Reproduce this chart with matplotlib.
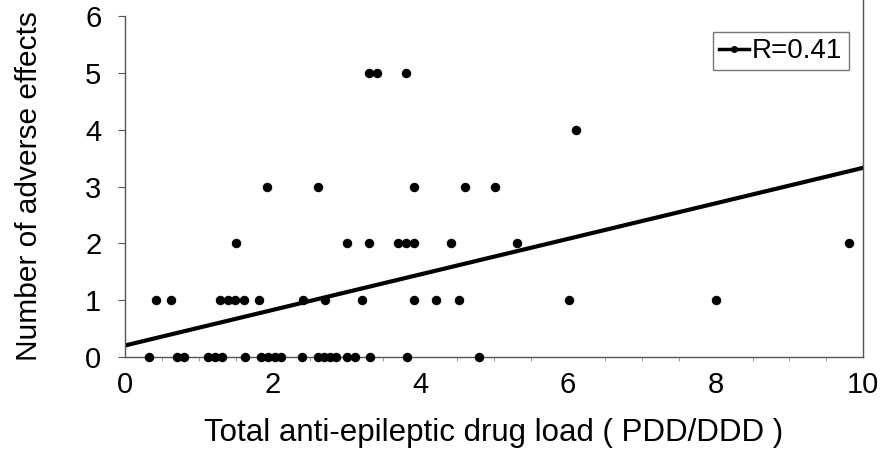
import numpy as np
import matplotlib
matplotlib.use("Agg")
import matplotlib.pyplot as plt
from matplotlib.ticker import MultipleLocator

plt.rcParams['font.family'] = ['Liberation Sans', 'DejaVu Sans']

# drug load (PDD/DDD) per number of adverse effects
load_0 = [0.33, 0.71, 0.80, 1.12, 1.22, 1.32, 1.62, 1.84, 1.94, 2.03, 2.12, 2.40,
          2.62, 2.70, 2.78, 2.86, 3.01, 3.12, 3.32, 3.82, 4.80]
load_1 = [0.42, 0.62, 1.29, 1.39, 1.49, 1.61, 1.82, 2.41, 2.71, 3.21, 3.92, 4.21,
          4.52, 6.01, 8.00]
load_2 = [1.51, 3.01, 3.31, 3.70, 3.81, 3.91, 4.41, 5.31, 9.80]
load_3 = [1.92, 2.62, 3.91, 4.61, 5.01]
load_4 = [6.11]
load_5 = [3.30, 3.41, 3.81]

# regression line end points
fit_x = [0, 10]
fit_y = [0.20, 3.33]
r_label = "R=0.41"

groups = [load_0, load_1, load_2, load_3, load_4, load_5]
xs = np.concatenate([np.array(g) for g in groups])
ys = np.concatenate([np.full(len(g), i) for i, g in enumerate(groups)])

fig = plt.figure(figsize=(8.8, 4.5), dpi=100)
ax = fig.add_axes([0.142, 0.207, 0.839, 0.757])

ax.plot(xs, ys, "o", color="black", markersize=5.8, clip_on=False, zorder=3)
ax.plot(fit_x, fit_y, "-", color="black", lw=3, zorder=2)

# legend: line with small dot
ax.plot([], [], "-", color="black", lw=2.5, marker="o", markersize=4, label=r_label)
leg = ax.legend(loc="upper right", bbox_to_anchor=(0.980, 0.953), fontsize=20,
                frameon=True, fancybox=False, handlelength=1.1, handletextpad=0.1,
                borderpad=0.22, borderaxespad=0)
leg.get_frame().set_edgecolor("#555555")
leg.get_frame().set_linewidth(1)

ax.set_xlim(0, 10)
ax.set_ylim(0, 6)
ax.xaxis.set_major_locator(MultipleLocator(2))
ax.xaxis.set_minor_locator(MultipleLocator(0.5))
ax.yaxis.set_major_locator(MultipleLocator(1))

ax.spines["top"].set_visible(False)
for s in ["left", "bottom", "right"]:
    ax.spines[s].set_color("#555555")
    ax.spines[s].set_linewidth(1)
ax.spines["right"].set_bounds(0, 6.28)

ax.tick_params(axis="both", labelsize=21, colors="#555555", labelcolor="black",
               direction="out", length=5)
ax.tick_params(axis="x", which="major", length=0, pad=10)
ax.tick_params(axis="x", which="minor", length=3, colors="#888888")
ax.tick_params(axis="y", pad=12)

ax.set_xlabel("Total anti-epileptic drug load ( PDD/DDD )", fontsize=22.5, labelpad=14)
ax.set_ylabel("Number of adverse effects", fontsize=21.5, labelpad=30)

fig.savefig("out.png", dpi=100)
